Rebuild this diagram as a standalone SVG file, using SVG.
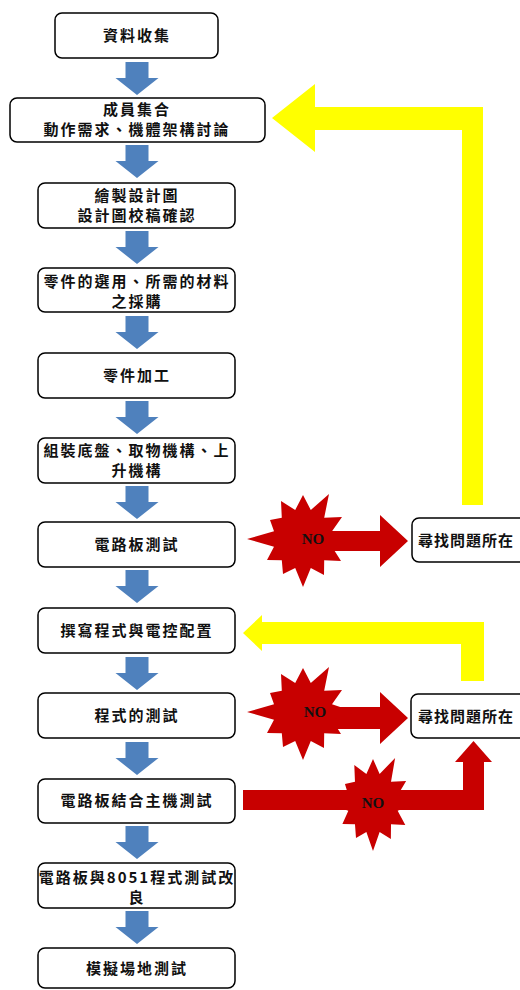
<svg xmlns="http://www.w3.org/2000/svg" xmlns:xlink="http://www.w3.org/1999/xlink" width="520" height="990" viewBox="0 0 520 990">
<style>
.box{fill:#fff;stroke:#000;stroke-width:1.5}
.t{font-family:"Noto Sans CJK TC","Noto Sans CJK SC",sans-serif;font-size:15px;font-weight:700;fill:#111;text-anchor:middle;letter-spacing:2px}
.t2{letter-spacing:1px}
.no{font-family:"Liberation Serif",serif;font-size:15px;font-weight:700;fill:#111;text-anchor:middle}
.blue{fill:#4F81BD}
.yel{fill:#FFFF00}
.red{fill:#C80000}
</style>
<defs>
<path id="down" d="M-11.5,0 L11.5,0 L11.5,16 L21.5,16 L0,33 L-21.5,16 L-11.5,16 Z"/>
<polygon id="star" points="0,-44 7.8,-29 26,-45 21.2,-21.2 39,-22 29,-7.8 52,0 29,7.8 38,22 21.2,21.2 21,36 7.8,29 0,48 -7.8,29 -20,35 -21.2,21.2 -36,21 -29,7.8 -56,0 -29,-7.8 -33,-19 -21.2,-21.2 -22,-38 -7.8,-29"/>
</defs>
<rect width="520" height="990" fill="#fff"/>
<g id="connectors">
<use href="#down" class="blue" transform="translate(137,62)"/>
<use href="#down" class="blue" transform="translate(137,145)"/>
<use href="#down" class="blue" transform="translate(137,231)"/>
<use href="#down" class="blue" transform="translate(137,316)"/>
<use href="#down" class="blue" transform="translate(137,401)"/>
<use href="#down" class="blue" transform="translate(137,486)"/>
<use href="#down" class="blue" transform="translate(137,570)"/>
<use href="#down" class="blue" transform="translate(137,657)"/>
<use href="#down" class="blue" transform="translate(137,742)"/>
<use href="#down" class="blue" transform="translate(137,826)"/>
<use href="#down" class="blue" transform="translate(137,911)"/>
<path class="yel" d="M272,118 L315,84 L315,107 L483,107 L483,505 L462,505 L462,130 L315,130 L315,152 Z"/>
<path class="yel" d="M243,633 L262,615 L262,622 L484,622 L484,681 L461,681 L461,644 L262,644 L262,651 Z"/>
<path class="red" d="M330,531 L380,531 L380,515 L408,541 L380,567 L380,551 L330,551 Z"/>
<use href="#star" class="red" transform="translate(303,539)"/>
<text class="no" x="313" y="544">NO</text>
<path class="red" d="M330,707 L380,707 L380,692 L408,718 L380,744 L380,729 L330,729 Z"/>
<use href="#star" class="red" transform="translate(303,712)"/>
<text class="no" x="315" y="717">NO</text>
<path class="red" d="M243,790 L463,790 L463,762 L455,762 L473.5,741 L492,762 L484,762 L484,810 L243,810 Z"/>
<use href="#star" class="red" transform="translate(373,803) scale(0.85,1)"/>
<text class="no" x="373" y="808">NO</text>
</g>
<g id="n1"><rect class="box" x="55" y="13" width="163" height="45" rx="7"/><text class="t" x="137" y="41">資料收集</text></g>
<g id="n2"><rect class="box" x="10" y="98" width="255" height="44" rx="7"/><text class="t" x="137" y="115">成員集合</text><text class="t" x="137" y="135">動作需求、機體架構討論</text></g>
<g id="n3"><rect class="box" x="38" y="183" width="197" height="45" rx="7"/><text class="t" x="137" y="201">繪製設計圖</text><text class="t" x="137" y="221">設計圖校稿確認</text></g>
<g id="n4"><rect class="box" x="38" y="268" width="197" height="44" rx="7"/><text class="t" x="137" y="287">零件的選用、所需的材料</text><text class="t" x="137" y="307">之採購</text></g>
<g id="n5"><rect class="box" x="38" y="353" width="197" height="45" rx="7"/><text class="t" x="137" y="381">零件加工</text></g>
<g id="n6"><rect class="box" x="38" y="438" width="197" height="45" rx="7"/><text class="t" x="137" y="456">組裝底盤、取物機構、上</text><text class="t" x="137" y="476">升機構</text></g>
<g id="n7"><rect class="box" x="38" y="522" width="197" height="45" rx="7"/><text class="t" x="137" y="550">電路板測試</text></g>
<g id="n8"><rect class="box" x="38" y="608" width="197" height="45" rx="7"/><text class="t" x="137" y="636">撰寫程式與電控配置</text></g>
<g id="n9"><rect class="box" x="38" y="693" width="197" height="45" rx="7"/><text class="t" x="137" y="721">程式的測試</text></g>
<g id="n10"><rect class="box" x="38" y="779" width="197" height="44" rx="7"/><text class="t" x="137" y="806">電路板結合主機測試</text></g>
<g id="n11"><rect class="box" x="38" y="863" width="197" height="45" rx="7"/><text class="t" x="137" y="883">電路板與8051程式測試改</text><text class="t" x="137" y="903">良</text></g>
<g id="n12"><rect class="box" x="38" y="948" width="197" height="40" rx="7"/><text class="t" x="137" y="974">模擬場地測試</text></g>
<g id="r1"><rect class="box" x="412" y="518" width="120" height="44" rx="7"/><text class="t t2" x="466" y="546">尋找問題所在</text></g>
<g id="r2"><rect class="box" x="411" y="694" width="120" height="44" rx="7"/><text class="t t2" x="466" y="722">尋找問題所在</text></g>
</svg>
